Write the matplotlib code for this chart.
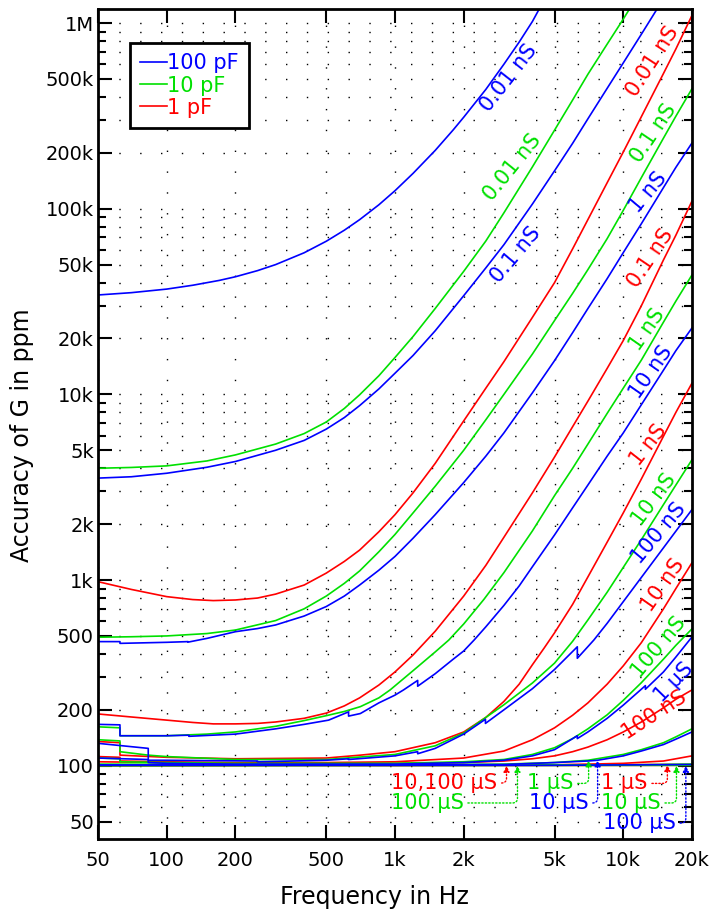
import matplotlib
matplotlib.use('Agg')
import matplotlib.pyplot as plt

BLUE = '#0000ff'
GREEN = '#00e000'
RED = '#ff0000'

# ---- curves: frequency (Hz) / accuracy of G (ppm) ----
# 100 pF (blue)
f_b001 = [50, 70, 100, 130, 170, 200, 250, 300, 400, 500, 600, 700, 850, 1000, 1200, 1500, 1800, 2000,
          2500, 3000, 3500, 4000, 4500]
v_b001 = [34.3e3, 35.3e3, 36.9e3, 38.7e3, 41.1e3, 43e3, 46.4e3, 50e3, 57.9e3, 66.8e3, 76.6e3, 87.3e3, 105e3,
          125e3, 155e3, 206e3, 266e3, 311e3, 439e3, 600e3, 790e3, 1.02e6, 1.33e6]
f_b01 = [50, 70, 100, 150, 200, 300, 400, 500, 600, 700, 850, 1000, 1200, 1500, 2000, 2500, 3000, 4000,
         5000, 6000, 7000, 8500, 10000, 12000, 14000, 16000]
v_b01 = [3.54e3, 3.6e3, 3.76e3, 4.05e3, 4.35e3, 5.0e3, 5.65e3, 6.5e3, 7.5e3, 8.7e3, 10.7e3, 13e3, 16.2e3,
         22e3, 34e3, 48e3, 64e3, 106e3, 160e3, 225e3, 305e3, 445e3, 610e3, 870e3, 1.18e6, 1.55e6]
f_b1 = [50, 62.4, 62.4, 100, 124, 124, 150, 200, 250, 300, 400, 500, 600, 700, 850, 1000, 1200, 1500, 2000,
        2500, 3000, 4000, 5000, 6000, 7000, 8500, 10000, 12000, 15000, 17000, 20000]
v_b1 = [466, 466, 456, 462, 466, 463, 485, 527, 548, 573, 640, 720, 820, 940, 1130, 1340, 1680, 2250, 3350,
        4650, 6200, 10.2e3, 15.2e3, 21.5e3, 29e3, 42e3, 58e3, 83e3, 130e3, 167e3, 226e3]
f_b10 = [50, 62.4, 62.4, 100, 125, 125, 200, 300, 400, 512, 626, 626, 705, 850, 1000, 1090, 1257, 1257,
         1500, 1800, 2000, 2220, 2500, 3000, 3500, 4000, 5000, 6000, 7000, 8500, 10000, 12000, 15000, 17000, 20000]
v_b10 = [167, 166, 145, 145, 146, 144, 148, 158, 167, 176, 195, 185, 191, 218, 240, 256, 288, 268,
         313, 375, 415, 475, 560, 730, 930, 1180, 1750, 2450, 3250, 4650, 6200, 8800, 13.5e3, 17.2e3, 22.8e3]
f_b100 = [50, 83, 83, 100, 250, 250, 500, 626, 626, 1000, 1257, 1257, 1500, 2000, 2490, 2490, 3000, 4000,
          5000, 6290, 6290, 7000, 7440, 8500, 10000, 12000, 15000, 17000, 20000]
v_b100 = [132, 124, 107, 107, 106, 105, 107, 109, 108, 113, 119, 116, 124, 148, 178, 169, 200, 260,
          330, 437, 379, 438, 476, 585, 765, 1033, 1492, 1834, 2397]
f_b1u = [50, 83, 83, 100, 200, 500, 1000, 2000, 3000, 4000, 5000, 6290, 6290, 7000, 8500, 10000, 12500, 12500,
         15000, 17000, 20000]
v_b1u = [110, 108, 104, 103, 102, 102, 102, 104, 107, 113, 122, 145, 140, 152, 180, 212, 270, 258,
         320, 385, 494]
f_b10u = [50, 1000, 3000, 5000, 7000, 7720, 10000, 12000, 15000, 17000, 20000]
v_b10u = [101, 101, 101.5, 104, 106, 107, 113, 120, 130, 139, 152]
f_b100u = [50, 1000, 5000, 10000, 20000]
v_b100u = [100.5, 100.5, 100.5, 101, 101.5]

# 10 pF (green)
f_g001 = [50, 70, 100, 150, 200, 300, 400, 500, 600, 700, 850, 1000, 1200, 1500, 2000, 2500, 3000, 4000,
          5000, 6000, 7000, 8500, 10000, 11000, 12000]
v_g001 = [4.0e3, 4.04e3, 4.12e3, 4.38e3, 4.72e3, 5.4e3, 6.15e3, 7.1e3, 8.4e3, 9.95e3, 12.6e3, 15.8e3, 20.5e3,
          29e3, 46e3, 67e3, 95e3, 168e3, 265e3, 385e3, 530e3, 770e3, 1.05e6, 1.27e6, 1.5e6]
f_g01 = [50, 70, 100, 150, 200, 300, 400, 500, 600, 700, 850, 1000, 1200, 1500, 2000, 2500, 3000, 4000,
         5000, 6000, 7000, 8500, 10000, 12000, 15000, 17000, 20000]
v_g01 = [492, 495, 500, 515, 538, 605, 700, 820, 960, 1120, 1420, 1760, 2300, 3200, 5000, 7300, 10e3, 16.5e3,
         25e3, 35e3, 47e3, 69e3, 98e3, 147e3, 240e3, 315e3, 443e3]
f_g1 = [50, 62.4, 62.4, 100, 150, 200, 300, 400, 500, 600, 705, 850, 952, 1200, 1500, 1720, 2000, 2450,
        3000, 4000, 5000, 6000, 7000, 8500, 10000, 12000, 15000, 17000, 20000]
v_g1 = [162, 160, 145, 145, 148, 152, 163, 175, 186, 196, 208, 232, 256, 325, 410, 475, 580, 786,
        1096, 1840, 2850, 4000, 5400, 7900, 10.8e3, 15.3e3, 24.5e3, 31.8e3, 44e3]
f_g10 = [50, 62.4, 62.4, 83, 100, 200, 500, 1000, 1500, 2000, 2500, 3000, 4000, 5000, 6000, 7000, 8500,
         10000, 12000, 15000, 17000, 20000]
v_g10 = [138, 136, 119, 114, 112, 108, 108, 115, 128, 150, 182, 213, 279, 357, 468, 610, 860,
         1170, 1650, 2550, 3250, 4450]
f_g100 = [50, 62.4, 62.4, 100, 200, 500, 1000, 2000, 3000, 4000, 5000, 6000, 7000, 8500, 10000, 12000,
          15000, 17000, 20000]
v_g100 = [110, 109, 105, 104, 103, 103, 103, 105, 108, 115, 125, 140, 158, 188, 225, 280,
          375, 445, 546]
f_g1u = [50, 1000, 3000, 5000, 7000, 10000, 12000, 15000, 17000, 20000]
v_g1u = [102, 101, 102, 104, 107, 115, 122, 133, 143, 158]
f_g10u = [50, 10000, 20000]
v_g10u = [100.5, 101, 102]
f_g100u = [50, 20000]
v_g100u = [100, 100.5]

# 1 pF (red)
f_r001 = [50, 70, 100, 130, 160, 200, 250, 300, 400, 500, 600, 700, 850, 1000, 1200, 1500, 2000, 2500,
          3000, 4000, 5000, 6000, 7000, 8500, 10000, 12000, 15000, 17000, 20000]
v_r001 = [980, 890, 814, 785, 775, 781, 800, 840, 940, 1090, 1260, 1450, 1820, 2250, 2950, 4250, 7200, 10.8e3,
          15e3, 26e3, 40e3, 60.8e3, 87.4e3, 138e3, 202e3, 313e3, 535e3, 725e3, 1.1e6]
f_r01 = [50, 70, 100, 130, 160, 200, 250, 300, 400, 500, 600, 700, 850, 1000, 1200, 1500, 2000, 2500,
         3000, 4000, 5000, 6000, 7000, 8500, 10000, 12000, 15000, 17000, 20000]
v_r01 = [190, 183, 176, 171, 168, 168, 169, 172, 180, 192, 210, 232, 272, 320, 395, 530, 820, 1200,
         1700, 2950, 4600, 6700, 9200, 13.8e3, 19.5e3, 30e3, 53e3, 72e3, 110e3]
f_r1 = [50, 62.4, 62.4, 100, 200, 500, 705, 1000, 1500, 2000, 2500, 3000, 3500, 4000, 4500, 5000, 6000,
        7000, 8500, 10000, 12000, 15000, 17000, 20000]
v_r1 = [135, 133, 114, 111, 109, 110, 114, 119, 133, 152, 182, 222, 275, 350, 430, 520, 740,
        1040, 1600, 2300, 3500, 5950, 8000, 11.5e3]
f_r10 = [50, 62.4, 62.4, 100, 200, 500, 1000, 2000, 3000, 4000, 5000, 6000, 7000, 8500, 10000, 12000,
         15000, 17000, 20000]
v_r10 = [112, 111, 106, 105, 104, 104, 105, 110, 120, 138, 160, 187, 218, 275, 345, 460,
         700, 900, 1240]
f_r100 = [50, 100, 200, 500, 1000, 2000, 3000, 4000, 5000, 6000, 7000, 8500, 10000, 12000, 15000, 17000, 20000]
v_r100 = [105, 104, 103, 103, 103, 104, 106, 109, 113, 119, 126, 138, 152, 172, 205, 228, 256]
f_r1u = [50, 1000, 5000, 10000, 15000, 20000]
v_r1u = [101, 100.5, 101, 103, 106, 113]
f_r10u = [50, 20000]
v_r10u = [100.3, 101.5]
f_r100u = [50, 20000]
v_r100u = [100, 100.5]

# curve labels: text, colour, frequency, ppm, angle
lbl_text = ['0.01 nS', '0.01 nS', '0.1 nS', '0.01 nS', '0.1 nS', '1 nS', '0.1 nS', '1 nS', '10 nS',
            '1 nS', '10 nS', '100 nS', '10 nS', '100 nS', '1 µS', '100 nS']
lbl_color = [BLUE, GREEN, BLUE, RED, GREEN, BLUE, RED, GREEN, BLUE, RED, GREEN, BLUE, RED, GREEN, BLUE, RED]
lbl_f = [3140, 3270, 3370, 13500, 13500, 12900, 13200, 12800, 13200, 12900, 13600, 14300, 15000, 14300, 16600, 13600]
lbl_v = [507e3, 166e3, 56.4e3, 618e3, 256e3, 123e3, 54.4e3, 22.3e3, 13.2e3, 5350, 2700, 1790, 941, 436, 282, 188]
lbl_rot = [52, 51, 50, 57, 56, 50, 56, 55, 55, 52, 53, 50, 55, 50, 46, 33]

# bottom annotations: text, colour, text position, arrow tip
ann_text = ['10,100 µS', '100 µS', '1 µS', '10 µS', '1 µS', '10 µS', '100 µS']
ann_color = [RED, GREEN, GREEN, BLUE, RED, GREEN, BLUE]
ann_tf = [2810, 2000, 6060, 7050, 12800, 14600, 17000]
ann_tv = [80.7, 63, 80.3, 63, 80.3, 63, 49.1]
ann_f = [3080, 3440, 7050, 7720, 15600, 17100, 18800]
ann_v = [100, 100, 107, 107, 101, 100, 100]

xticks = [50, 100, 200, 500, 1000, 2000, 5000, 10000, 20000]
xlabels = ['50', '100', '200', '500', '1k', '2k', '5k', '10k', '20k']
yticks = [50, 100, 200, 500, 1e3, 2e3, 5e3, 1e4, 2e4, 5e4, 1e5, 2e5, 5e5, 1e6]
ylabels = ['50', '100', '200', '500', '1k', '2k', '5k', '10k', '20k', '50k', '100k', '200k', '500k', '1M']

reds = [(f_r001, v_r001), (f_r01, v_r01), (f_r1, v_r1), (f_r10, v_r10), (f_r100, v_r100),
        (f_r1u, v_r1u), (f_r10u, v_r10u), (f_r100u, v_r100u)]
greens = [(f_g001, v_g001), (f_g01, v_g01), (f_g1, v_g1), (f_g10, v_g10), (f_g100, v_g100),
          (f_g1u, v_g1u), (f_g10u, v_g10u), (f_g100u, v_g100u)]
blues = [(f_b001, v_b001), (f_b01, v_b01), (f_b1, v_b1), (f_b10, v_b10), (f_b100, v_b100),
         (f_b1u, v_b1u), (f_b10u, v_b10u), (f_b100u, v_b100u)]

plt.rcParams['font.family'] = 'DejaVu Sans'
fig = plt.figure(figsize=(7.17, 9.17), dpi=100)
ax = fig.add_axes([98/717, 1-839/917, 594/717, 830/917])

lw = 1.2
for i, (f, v) in enumerate(reds):
    ax.plot(f, v, color=RED, lw=lw, label='1 pF' if i == 0 else None)
for i, (f, v) in enumerate(greens):
    ax.plot(f, v, color=GREEN, lw=lw, label='10 pF' if i == 0 else None)
for i, (f, v) in enumerate(blues):
    ax.plot(f, v, color=BLUE, lw=lw, label='100 pF' if i == 0 else None)

ax.set_xscale('log')
ax.set_yscale('log')

ax.set_xticks(xticks)
ax.set_xticklabels(xlabels)
ax.xaxis.set_minor_locator(plt.NullLocator())
ax.set_yticks(yticks)
ax.set_yticklabels(ylabels)
ymin = [60, 70, 80, 90]
for d in [100, 1000, 10000, 100000]:
    for k in [3, 4, 6, 7, 8, 9]:
        ymin.append(k * d)
ax.set_yticks(ymin, minor=True)
ax.yaxis.set_minor_formatter(plt.NullFormatter())
ax.set_xlim(50, 20000)
ax.set_ylim(40.3, 1.19e6)

ax.tick_params(which='both', direction='in', top=True, right=True, width=1.5, labelsize=14)
ax.tick_params(which='major', length=10)
ax.tick_params(which='minor', length=6)
ax.tick_params(axis='x', pad=9)
ax.tick_params(axis='y', pad=3)
for s in ax.spines.values():
    s.set_linewidth(2)

ax.grid(True, which='both', axis='y', color='k', linestyle=(0, (1, 14)), lw=1)
ax.grid(True, which='major', axis='x', color='k', linestyle=(0, (1, 14)), lw=1)

for t, c, f, v, r in zip(lbl_text, lbl_color, lbl_f, lbl_v, lbl_rot):
    ax.text(f, v, t, color=c, fontsize=15, rotation=r, ha='center', va='center', rotation_mode='anchor')

for t, c, tf, tv, f, v in zip(ann_text, ann_color, ann_tf, ann_tv, ann_f, ann_v):
    ax.annotate(t, xy=(f, v), xytext=(tf, tv), color=c, fontsize=15, ha='right', va='center',
                arrowprops=dict(arrowstyle='-|>', color=c, lw=1, linestyle=(0, (1, 1.5)),
                                shrinkA=1, shrinkB=0, mutation_scale=9,
                                connectionstyle='angle,angleA=0,angleB=90,rad=5'))

h, l = ax.get_legend_handles_labels()
order = [2, 1, 0]
leg = ax.legend([h[i] for i in order], [l[i] for i in order], loc='upper left',
                bbox_to_anchor=(0.054, 0.959), borderaxespad=0, fancybox=False,
                edgecolor='k', fontsize=15, handlelength=1.25, handletextpad=0.02,
                labelspacing=0.1, borderpad=0.5, framealpha=1)
leg.get_frame().set_linewidth(2)
for txt, c in zip(leg.get_texts(), [BLUE, GREEN, RED]):
    txt.set_color(c)

ax.set_xlabel('Frequency in Hz', fontsize=17)
ax.set_ylabel('Accuracy of G in ppm', fontsize=17)
ax.xaxis.set_label_coords(0.466, -0.055)
ax.yaxis.set_label_coords(-0.108, 0.487)

fig.savefig('out.png', dpi=100)
